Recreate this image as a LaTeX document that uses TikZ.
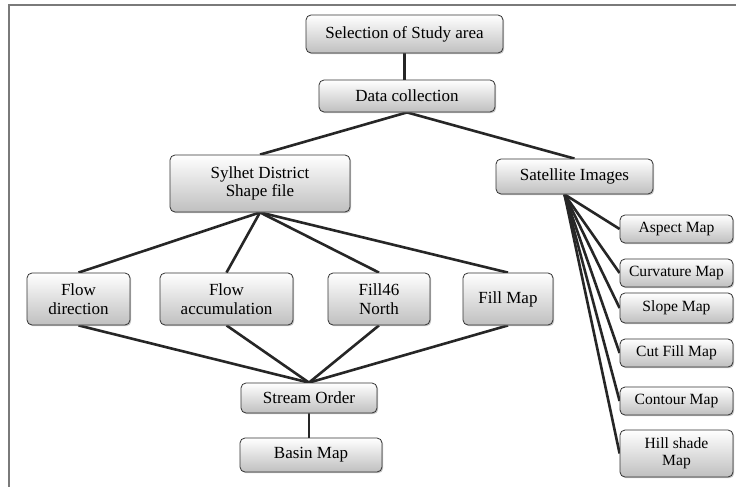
\documentclass[tikz,border=0pt]{standalone}
\usepackage{fontspec}
\setmainfont{Liberation Serif}
\usetikzlibrary{shadows,backgrounds}
\begin{document}
\begin{tikzpicture}[x=1pt,y=-1pt,
  box/.style={draw=black!80, line width=0.8pt, rounded corners=5pt,
    top color=white, bottom color=gray!50,
    drop shadow={shadow xshift=1.2pt, shadow yshift=-1.2pt, opacity=0.45},
    align=center, font=\fontsize{17}{18.5}\selectfont, inner sep=2pt},
  sidebox/.style={box, minimum width=113pt, font=\fontsize{15.6}{17}\selectfont},
  link/.style={line width=2.6pt, draw=black!85},
  frameline/.style={line width=2pt, draw=black!52}]
\useasboundingbox (0,0) rectangle (736,487);

\node[box, minimum width=197pt, minimum height=38pt] (sel) at (404.5,34) {Selection of Study area};
\node[box, minimum width=176pt, minimum height=32pt] (dc) at (407,96) {Data collection};
\node[box, minimum width=180pt, minimum height=57pt] (syl) at (260,183.5) {Sylhet District\\Shape file};
\node[box, minimum width=157pt, minimum height=35pt] (sat) at (574.5,176.5) {Satellite Images};

\node[box, minimum width=103pt, minimum height=52pt] (fd) at (78.5,299) {Flow\\direction};
\node[box, minimum width=133pt, minimum height=52pt] (fa) at (226.5,299) {Flow\\accumulation};
\node[box, minimum width=102pt, minimum height=52pt] (fn) at (379,299) {Fill46\\North};
\node[box, minimum width=90pt, minimum height=52pt] (fm) at (508,299) {Fill Map};

\node[box, minimum width=136pt, minimum height=30pt] (so) at (309,398) {Stream Order};
\node[box, minimum width=142pt, minimum height=34pt] (bm) at (311,455) {Basin Map};

\node[sidebox, minimum height=28pt] (asp) at (676.5,229) {Aspect Map};
\node[sidebox, minimum height=28pt] (cur) at (676.5,273) {Curvature Map};
\node[sidebox, minimum height=30pt] (slo) at (676.5,308) {Slope Map};
\node[sidebox, minimum height=28pt] (cut) at (676.5,353) {Cut Fill Map};
\node[sidebox, minimum height=28pt] (con) at (676.5,401) {Contour Map};
\node[sidebox, minimum height=47pt] (hil) at (676.5,453.5) {Hill shade\\Map};

\begin{scope}[on background layer]
\fill[white] (0,0) rectangle (736,487);
\draw[frameline] (8.8,487) -- (8.8,5.5) -- (736,5.5);
\draw[link] (sel.south) -- (sel.south |- dc.north);
\draw[link] (dc.south) -- (syl.north);
\draw[link] (dc.south) -- (sat.north);
\foreach \n in {fd,fa,fn,fm} {
  \draw[link] (syl.south) -- (\n.north);
  \draw[link] (\n.south) -- (so.north);
}
\draw[link] (so.south) -- (so.south |- bm.north);
\foreach \n in {asp,cur,slo,cut,con,hil} {
  \draw[link] ([xshift=-10pt]sat.south) -- (\n.west);
}
\end{scope}
\end{tikzpicture}
\end{document}
